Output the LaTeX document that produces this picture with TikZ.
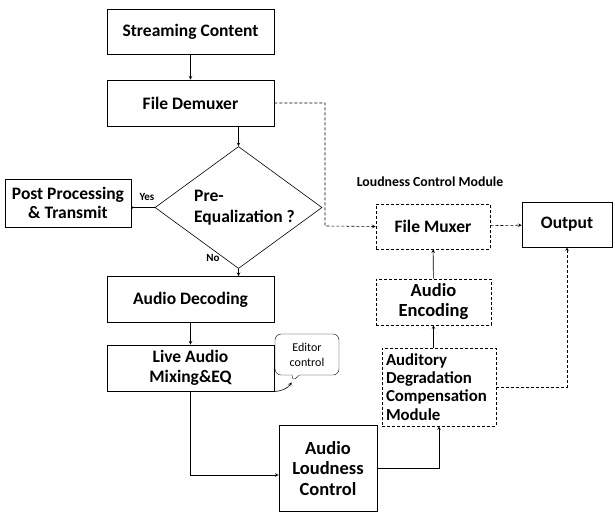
\documentclass[tikz,border=0pt]{standalone}
\usepackage{fontspec}
\setmainfont{Carlito}
\usepackage{xcolor}
\usepackage{tikz}
\usetikzlibrary{positioning}
\usetikzlibrary{arrows, shapes.geometric, shapes.callouts, calc}

\tikzset{
  blk/.style={draw, thick, align=center, font=\bfseries\fontsize{17.5}{20}\selectfont, inner sep=0pt},
  dblk/.style={blk, semithick, dash pattern=on 3pt off 2pt},
  flow/.style={->, >=stealth, semithick},
  dflow/.style={flow, dash pattern=on 3pt off 2pt}
}

\begin{document}
\begin{tikzpicture}[x=1pt, y=-1pt]
        \useasboundingbox (0,0) rectangle (615,512);
        % main column
        \node[blk, minimum width=167, minimum height=45] (stream) at (190.5,31.5) {Streaming Content};
        \node[blk, minimum width=167, minimum height=46] (demux) at (190.5,103) {File Demuxer};
        \node[draw, semithick, diamond, minimum width=167, minimum height=122, inner sep=0pt] (preeq) at (238.5,207.5) {};
        \node[font=\bfseries\fontsize{17.5}{21}\selectfont, align=left] (preeqtxt) at (244.5,208) {Pre-\\Equalization ?};
        \node[blk, minimum width=126, minimum height=48, font=\bfseries\fontsize{17.5}{19}\selectfont] (post) at (68,203) {Post Processing\\\& Transmit};
        \node[blk, minimum width=167, minimum height=46] (decode) at (190.5,299.5) {Audio Decoding};
        \node[blk, minimum width=167, minimum height=46] (mix) at (190.5,368) {Live Audio\\Mixing\&EQ};
        \node[blk, minimum width=98, minimum height=86, font=\bfseries\fontsize{18.5}{20.5}\selectfont] (loud) at (328,468.5) {Audio\\Loudness\\Control};
        % loudness control module
        \node[font=\bfseries\fontsize{13.8}{16}\selectfont] (lcmlabel) at (430,182) {Loudness Control Module};
        \node[dblk, minimum width=114, minimum height=45] (mux) at (433,226.5) {File Muxer};
        \node[dblk, minimum width=115, minimum height=46, font=\bfseries\fontsize{18.5}{20}\selectfont] (enc) at (433.5,302) {Audio\\Encoding};
        \node[dblk, minimum width=114, minimum height=78, align=left, font=\bfseries\fontsize{16.8}{18.3}\selectfont, text width=106] (adcm) at (439,387) {Auditory\\Degradation\\Compensation\\Module};
        \node[blk, semithick, minimum width=90, minimum height=45, font=\bfseries\fontsize{17.5}{19}\selectfont] (out) at (567,224.5) {Output};
        % editor
        \node[draw, thin, rectangle callout, rounded corners=6, align=center, minimum width=64, minimum height=41, inner sep=0pt,
              font=\fontsize{12}{15}\selectfont, callout absolute pointer={(292,382)}] (editor) at (307,354.5) {Editor\\control};
        % labels
        \node[font=\bfseries\fontsize{11}{12}\selectfont] (yes) at (147,197) {Yes};
        \node[font=\bfseries\fontsize{11}{12}\selectfont] (no) at (213,258) {No};
        % connectors
        \draw[flow] (stream) -- (demux);
        \draw[flow] (demux.south -| preeq.north) -- (preeq.north);
        \draw[-to, thin] (preeq.west) -- (post.east |- preeq.west);
        \draw[flow] (preeq.south) -- (preeq.south |- decode.north);
        \draw[flow] (decode) -- (mix);
        \draw[flow] (mix.south) |- (loud.west |- 0,475);
        \draw[flow] (loud.east |- 0,468) -| (adcm.south);
        \draw[flow] (adcm.north -| enc.south) -- (enc.south);
        \draw[flow] (enc) -- (mux);
        \draw[dflow] (demux.east) -| (325,226) -- (mux.west);
        \draw[dflow] (mux) -- (out);
        \draw[dflow] (adcm.east) -| (out.south);
        \draw[flow] (mix.south east) to[bend right=25] (editor.pointer);
    \end{tikzpicture}
\end{document}
